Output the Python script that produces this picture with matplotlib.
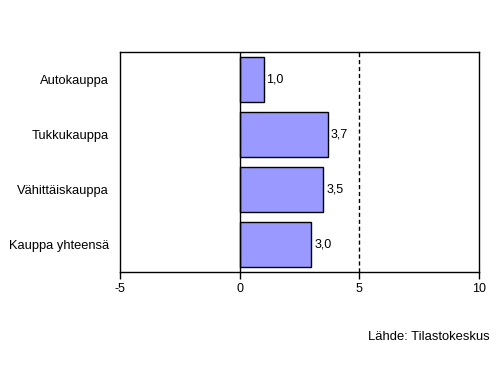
import matplotlib
matplotlib.use("Agg")
import matplotlib.pyplot as plt

plt.rcParams["font.family"] = ["Liberation Sans", "DejaVu Sans"]

categories = ["Kauppa yhteensä", "Vähittäiskauppa", "Tukkukauppa", "Autokauppa"]
values = [3.0, 3.5, 3.7, 1.0]
xticks = [-5, 0, 5, 10]

fig = plt.figure(figsize=(4.97, 3.70), dpi=100)
ax = fig.add_axes([0.2414, 0.2649, 0.7223, 0.5946])

ypos = range(len(categories))
ax.barh(ypos, values, height=0.82, color="#9999FF", edgecolor="black", linewidth=1.0, zorder=3)
for y, v in zip(ypos, values):
    ax.annotate(f"{v:.1f}".replace(".", ","), (v, y), xytext=(2, 0), textcoords="offset points",
                va="center", ha="left", fontsize=9)

ax.axvline(0, color="black", lw=1.0, zorder=4)
ax.axvline(5, color="black", lw=1.0, ls=(0, (3, 2)), zorder=2)

ax.set_xlim(-5, 10)
ax.set_ylim(-0.5, len(categories) - 0.5)
ax.set_xticks(xticks)
ax.set_xticklabels([str(t) for t in xticks], fontsize=9)
ax.set_yticks(list(ypos))
ax.set_yticklabels(categories, fontsize=9.3)
ax.tick_params(axis="y", length=0, pad=8)
ax.tick_params(axis="x", length=5, direction="out", pad=3, width=1)
for s in ax.spines.values():
    s.set_linewidth(1.0)

fig.text(0.985, 0.088, "Lähde: Tilastokeskus", ha="right", va="center", fontsize=9.4)

fig.savefig("out.png", dpi=100)
